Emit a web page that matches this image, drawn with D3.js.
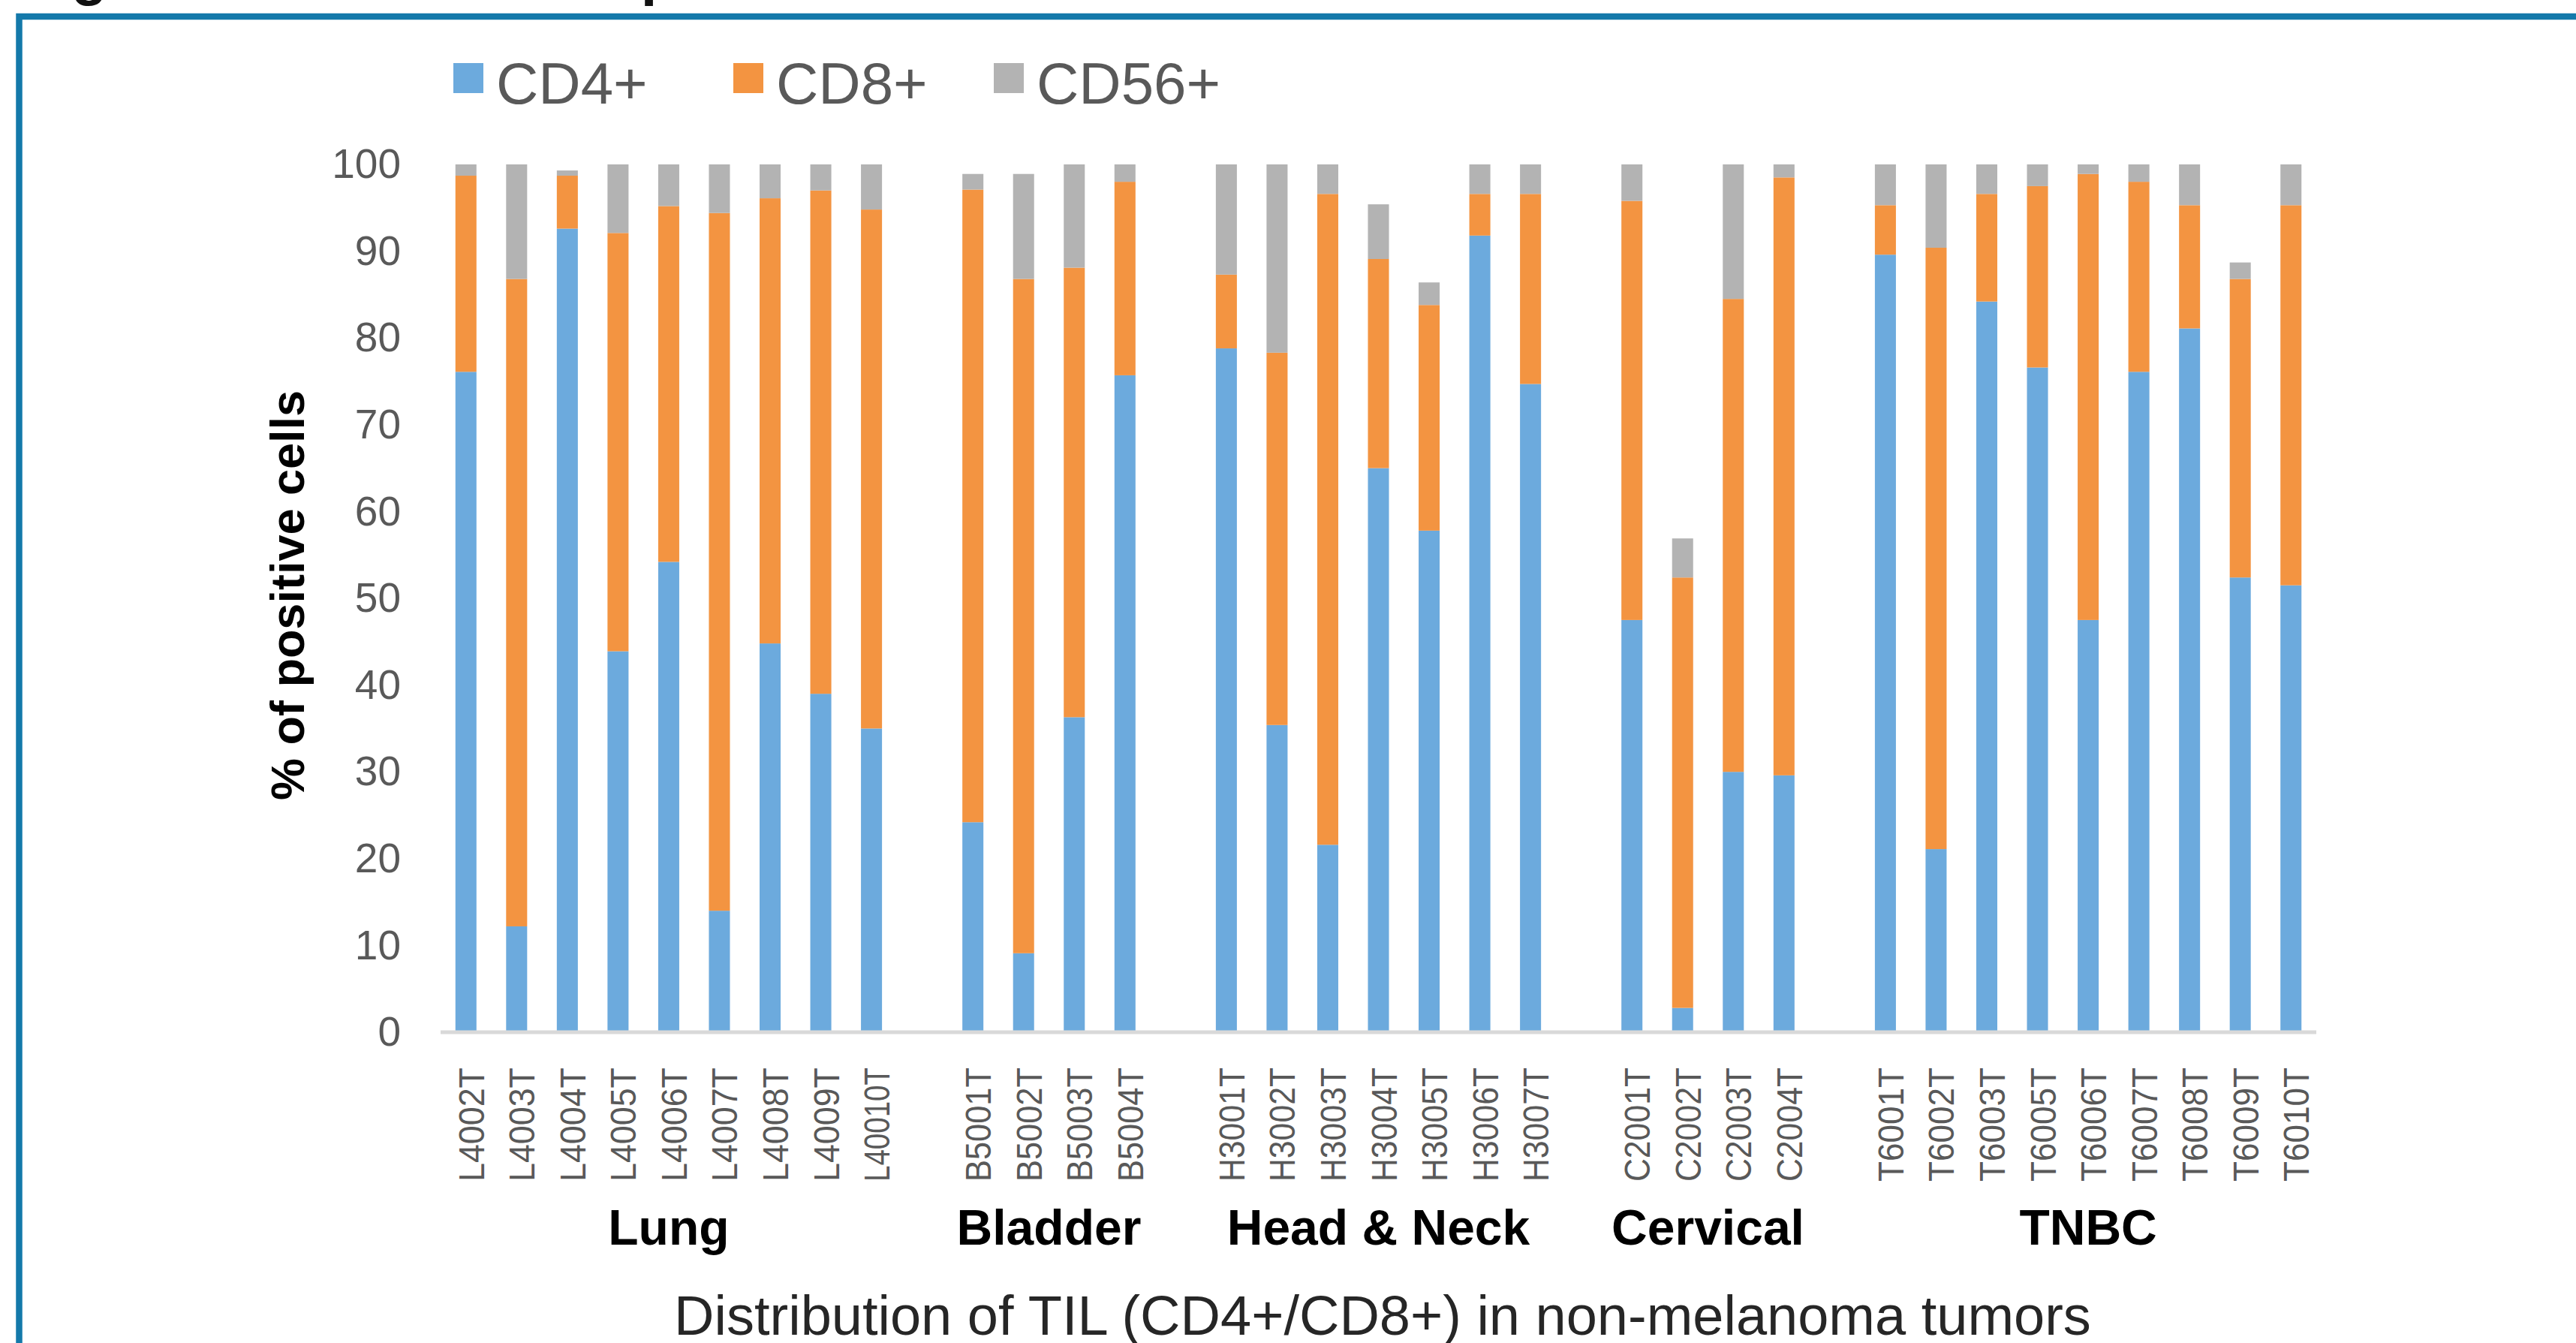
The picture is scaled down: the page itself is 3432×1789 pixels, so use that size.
<!DOCTYPE html>
<html>
<head>
<meta charset="utf-8">
<script src="https://cdn.jsdelivr.net/npm/d3@7"></script>
<style>
    body { margin: 0; background: #fff; }
    svg { display: block; font-family: 'Liberation Sans', Arial, sans-serif; }
</style>
</head>
<body>
<div id="chart"></div>
<script>
// tumour groups and the samples in each
const groupNames = ['Lung', 'Bladder', 'Head & Neck', 'Cervical', 'TNBC'];
const groupSamples = [
    ['L4002T', 'L4003T', 'L4004T', 'L4005T', 'L4006T', 'L4007T', 'L4008T', 'L4009T', 'L40010T'],
    ['B5001T', 'B5002T', 'B5003T', 'B5004T'],
    ['H3001T', 'H3002T', 'H3003T', 'H3004T', 'H3005T', 'H3006T', 'H3007T'],
    ['C2001T', 'C2002T', 'C2003T', 'C2004T'],
    ['T6001T', 'T6002T', 'T6003T', 'T6005T', 'T6006T', 'T6007T', 'T6008T', 'T6009T', 'T6010T'],
];

// % of positive cells, same order as the samples above
const cd4Values = [
    76.1, 12.2, 92.6, 43.9, 54.2, 14.0, 44.8, 39.0, 35.0,
    24.2, 9.1, 36.3, 75.7,
    78.8, 35.4, 21.6, 65.0, 57.8, 91.8, 74.7,
    47.5, 2.8, 30.0, 29.6,
    89.6, 21.1, 84.2, 76.6, 47.5, 76.1, 81.1, 52.4, 51.5,
];
const cd8Values = [
    22.6, 74.6, 6.1, 48.2, 41.0, 80.4, 51.3, 58.0, 59.8,
    72.9, 77.7, 51.8, 22.3,
    8.5, 42.9, 75.0, 24.1, 26.0, 4.8, 21.9,
    48.3, 49.6, 54.5, 68.9,
    5.7, 69.3, 12.4, 20.9, 51.4, 21.9, 14.2, 34.4, 43.8,
];
const cd56Values = [
    1.3, 13.2, 0.6, 7.9, 4.8, 5.6, 3.9, 3.0, 5.2,
    1.8, 12.1, 11.9, 2.0,
    12.7, 21.7, 3.4, 6.3, 2.6, 3.4, 3.4,
    4.2, 4.5, 15.5, 1.5,
    4.7, 9.6, 3.4, 2.5, 1.1, 2.0, 4.7, 1.9, 4.7,
];

const seriesKeys = ['CD4+', 'CD8+', 'CD56+'];
const yTicks = [0, 10, 20, 30, 40, 50, 60, 70, 80, 90, 100];

const colors = { 'CD4+': '#6CAADD', 'CD8+': '#F39441', 'CD56+': '#B3B3B3' };

function drawChart() {
    const width = 3432;
    const height = 1789;

    const svg = d3.select('#chart').append('svg')
        .attr('width', width)
        .attr('height', height);

    svg.append('rect')
        .attr('width', width)
        .attr('height', height)
        .attr('fill', '#fff');

    // figure heading, mostly cut off by the top edge
    svg.append('text')
        .attr('x', 26)
        .attr('y', -8)
        .attr('font-size', 78)
        .attr('font-weight', 'bold')
        .attr('fill', '#111')
        .text('Figure 3. Immune composition of non-melanoma tumors');

    // blue frame round the figure
    svg.append('rect')
        .attr('x', 25.5)
        .attr('y', 22)
        .attr('width', width)
        .attr('height', height)
        .attr('fill', 'none')
        .attr('stroke', '#1479AA')
        .attr('stroke-width', 8.5);

    // rows: one per sample, with blank slots between groups
    const rows = [];
    const domain = [];
    let k = 0;
    groupSamples.forEach((list, gi) => {
        if (gi > 0) domain.push('gap' + gi);
        list.forEach((id) => {
            rows.push({
                id,
                group: groupNames[gi],
                'CD4+': cd4Values[k],
                'CD8+': cd8Values[k],
                'CD56+': cd56Values[k],
            });
            domain.push(id);
            k++;
        });
    });

    const xScale = d3.scaleBand()
        .domain(domain)
        .range([587, 3086])
        .paddingInner(0.585)
        .paddingOuter(0.2925);

    const yScale = d3.scaleLinear()
        .domain([0, 100])
        .range([1375, 219]);

    const stacked = d3.stack().keys(seriesKeys)(rows);

    // bars
    svg.append('g')
        .selectAll('g')
        .data(stacked)
        .join('g')
        .attr('fill', (s) => colors[s.key])
        .selectAll('rect')
        .data((s) => s)
        .join('rect')
        .attr('x', (d) => xScale(d.data.id))
        .attr('y', (d) => yScale(d[1]))
        .attr('width', xScale.bandwidth())
        .attr('height', (d) => yScale(d[0]) - yScale(d[1]));

    // category axis line
    svg.append('line')
        .attr('x1', 587)
        .attr('x2', 3086)
        .attr('y1', yScale(0))
        .attr('y2', yScale(0))
        .attr('stroke', '#D9D9D9')
        .attr('stroke-width', 5);

    // y axis: labels only
    const yAxis = svg.append('g')
        .attr('transform', 'translate(540, 0)')
        .call(d3.axisLeft(yScale).tickValues(yTicks).tickSize(0).tickPadding(6));
    yAxis.select('.domain').remove();
    yAxis.selectAll('text')
        .attr('font-size', 55)
        .attr('font-family', "'Liberation Sans', Arial, sans-serif")
        .attr('fill', '#595959');

    svg.append('text')
        .attr('transform', 'translate(405, 793) rotate(-90)')
        .attr('text-anchor', 'middle')
        .attr('font-size', 63)
        .attr('font-weight', 'bold')
        .attr('fill', '#000')
        .text('% of positive cells');

    // sample labels, rotated
    svg.append('g')
        .selectAll('text')
        .data(rows)
        .join('text')
        .attr('transform', (d) => `translate(${xScale(d.id) + xScale.bandwidth() / 2 + 24}, 1422) rotate(-90)`)
        .attr('text-anchor', 'end')
        .attr('font-size', 48)
        .attr('fill', '#595959')
        .attr('textLength', 152)
        .attr('lengthAdjust', 'spacingAndGlyphs')
        .text((d) => d.id);

    // group labels under each block of samples
    svg.append('g')
        .selectAll('text')
        .data(groupSamples)
        .join('text')
        .attr('x', (list) => {
            const a = xScale(list[0]);
            const b = xScale(list[list.length - 1]);
            return (a + b) / 2 + xScale.bandwidth() / 2;
        })
        .attr('y', 1658)
        .attr('text-anchor', 'middle')
        .attr('font-size', 66)
        .attr('font-weight', 'bold')
        .attr('fill', '#000')
        .text((list, i) => groupNames[i]);

    svg.append('text')
        .attr('x', 1842)
        .attr('y', 1778)
        .attr('text-anchor', 'middle')
        .attr('font-size', 74)
        .attr('fill', '#262626')
        .text('Distribution of TIL (CD4+/CD8+) in non-melanoma tumors');

    // legend
    const legendX = [604, 977, 1324];
    const legend = svg.append('g')
        .selectAll('g')
        .data(seriesKeys)
        .join('g')
        .attr('transform', (d, i) => `translate(${legendX[i]}, 84)`);

    legend.append('rect')
        .attr('width', 40)
        .attr('height', 40)
        .attr('fill', (d) => colors[d]);

    legend.append('text')
        .attr('x', 57)
        .attr('y', 54)
        .attr('font-size', 78)
        .attr('fill', '#595959')
        .text((d) => d);
}

document.addEventListener('DOMContentLoaded', () => {
    drawChart();
});
</script>
</body>
</html>
